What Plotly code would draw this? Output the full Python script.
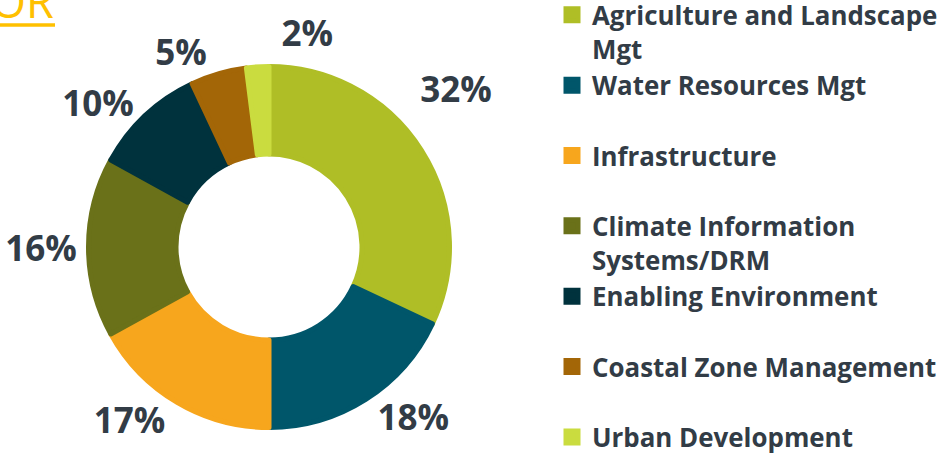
import plotly.graph_objects as go

categories = ["Agriculture and Landscape<br>Mgt", "Water Resources Mgt<br> ", "Infrastructure<br> ",
              "Climate Information<br>Systems/DRM", "Enabling Environment<br> ",
              "Coastal Zone Management<br> ", "Urban Development<br> "]
values = [32, 18, 17, 16, 10, 5, 2]
colors = ["#AFBE26", "#00566A", "#F7A61D", "#6A7119", "#00323D", "#A36607", "#CADC3F"]

TXT = "#323C46"
FONT = "Open Sans"
W, H = 947, 456
cx, cy, r_out, r_in, lw = 269, 247, 183, 90.5, 5
r_dom = r_out - lw / 2
n = len(values)
lblfont = dict(family=FONT, size=35, color=TXT, weight="bold")


def dom(r):
    return dict(x=[(cx - r) / W, (cx + r) / W], y=[1 - (cy + r) / H, 1 - (cy - r) / H])


def only(i, default="none"):
    return [("outside" if k == i else default) for k in range(n)]


# main donut: labels for the middle slices
main_pos = ["none"] + ["outside"] * (n - 2) + ["none"]
fig = go.Figure(go.Pie(
    labels=categories, values=values, hole=(r_in + lw / 2) / r_dom, sort=False,
    direction="clockwise", rotation=0,
    marker=dict(colors=colors, line=dict(width=lw, color=colors)),
    textinfo="percent", textposition=main_pos,
    outsidetextfont=lblfont, domain=dom(r_dom),
    hoverinfo="label+percent",
))
# invisible companion pies (same data) that carry the first / last slice labels
for idx, rot, rad in [(0, -13.9, 202), (n - 1, 3.8, 191)]:
    fig.add_trace(go.Pie(
        labels=categories, values=values, hole=0.95, sort=False,
        direction="clockwise", rotation=rot, showlegend=False,
        marker=dict(colors=["rgba(0,0,0,0)"] * n, line=dict(width=0)),
        textinfo="percent", textposition=only(idx),
        outsidetextfont=lblfont, domain=dom(rad), hoverinfo="skip",
    ))

fig.add_annotation(text="OR", xref="paper", yref="paper", x=56 / W, y=1 - 33 / H,
                   xanchor="right", yanchor="bottom", showarrow=False,
                   font=dict(family=FONT, size=45, color="#FFC000"))
fig.add_shape(type="line", xref="paper", yref="paper", x0=0, x1=55 / W,
              y0=1 - 25 / H, y1=1 - 25 / H, line=dict(color="#FFC000", width=3.5))

fig.update_layout(
    width=W, height=H, margin=dict(l=0, r=0, t=0, b=0, autoexpand=False),
    paper_bgcolor="white", plot_bgcolor="white",
    showlegend=True,
    legend=dict(x=552 / W, y=1 + 8.5 / H, xanchor="left", yanchor="top",
                font=dict(family=FONT, size=25.9, color=TXT, weight="bold"),
                bgcolor="rgba(0,0,0,0)", traceorder="normal", valign="top",
                maxheight=2000),
)

fig.write_html("out.html", config={"displayModeBar": False},
               post_script="document.body.style.margin='0';")
